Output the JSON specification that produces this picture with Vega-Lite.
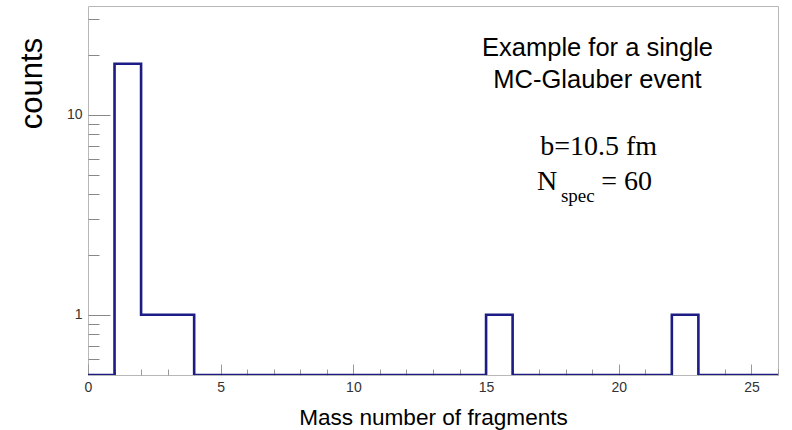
{
  "$schema": "https://vega.github.io/schema/vega-lite/v6.json",
  "width": 690,
  "height": 369,
  "autosize": "none",
  "padding": {"left": 88, "top": 6, "right": 14, "bottom": 55},
  "background": "white",
  "config": {
    "view": {"stroke": "#b8b8b8", "strokeWidth": 1},
    "font": "Liberation Sans",
    "axis": {"labelOverlap": false, "labelFlush": false, "labelBound": false}
  },
  "layer": [
    {
      "data": {
        "values": [
          {"edge": 0, "counts": 0}, {"edge": 1, "counts": 18}, {"edge": 2, "counts": 1},
          {"edge": 3, "counts": 1}, {"edge": 4, "counts": 0}, {"edge": 5, "counts": 0},
          {"edge": 6, "counts": 0}, {"edge": 7, "counts": 0}, {"edge": 8, "counts": 0},
          {"edge": 9, "counts": 0}, {"edge": 10, "counts": 0}, {"edge": 11, "counts": 0},
          {"edge": 12, "counts": 0}, {"edge": 13, "counts": 0}, {"edge": 14, "counts": 0},
          {"edge": 15, "counts": 1}, {"edge": 16, "counts": 0}, {"edge": 17, "counts": 0},
          {"edge": 18, "counts": 0}, {"edge": 19, "counts": 0}, {"edge": 20, "counts": 0},
          {"edge": 21, "counts": 0}, {"edge": 22, "counts": 1}, {"edge": 23, "counts": 0},
          {"edge": 24, "counts": 0}, {"edge": 25, "counts": 0}, {"edge": 26, "counts": 0}
        ]
      },
      "mark": {"type": "line", "interpolate": "step-after", "color": "#1c1c84", "strokeWidth": 2.6, "invalid": "show", "clip": true},
      "encoding": {
        "x": {
          "field": "edge", "type": "quantitative",
          "scale": {"domain": [0, 26], "nice": false, "zero": false},
          "axis": {
            "title": "Mass number of fragments",
            "titleFont": "Liberation Sans", "titleFontSize": 22.6, "titleFontWeight": "normal", "titleColor": "#000",
            "titlePadding": 7,
            "values": [0,1,2,3,4,5,6,7,8,9,10,11,12,13,14,15,16,17,18,19,20,21,22,23,24,25,26],
            "tickCount": 100,
            "labelExpr": "datum.value % 5 == 0 ? '' + datum.value : ''",
            "labelFont": "Liberation Sans", "labelFontSize": 14, "labelColor": "#333",
            "labelFlush": false, "labelOverlap": false,
            "labelPadding": 16,
            "domain": false, "grid": false,
            "tickColor": "#999", "tickWidth": 1,
            "tickSize": {"condition": {"test": "datum.value % 5 == 0", "value": -11}, "value": -6}
          }
        },
        "y": {
          "field": "counts", "type": "quantitative",
          "scale": {"type": "log", "domain": [0.5, 35], "nice": false, "clamp": true},
          "axis": {
            "title": "counts",
            "titleFont": "Liberation Sans", "titleFontSize": 31, "titleFontWeight": "normal", "titleColor": "#000",
            "titleAngle": -90, "titleX": -56, "titleY": 77, "titleAlign": "center", "titleBaseline": "middle",
            "values": [0.6, 0.7, 0.8, 0.9, 1, 2, 3, 4, 5, 6, 7, 8, 9, 10, 20, 30],
            "tickCount": 100,
            "labelExpr": "datum.value == 1 ? '1' : (datum.value == 10 ? '10' : '')",
            "labelFont": "Liberation Sans", "labelFontSize": 14, "labelColor": "#333",
            "labelOverlap": false, "labelFlush": false,
            "labelPadding": 28,
            "domain": false, "grid": false,
            "tickColor": "#888", "tickWidth": 1,
            "tickSize": {"condition": {"test": "datum.value == 1 || datum.value == 10", "value": -22}, "value": -11}
          }
        }
      }
    },
    {
      "data": {
        "values": [
          {"note": "Example for a single", "nx": 19.2, "ny": 19.7},
          {"note": "MC-Glauber event", "nx": 19.2, "ny": 13.6}
        ]
      },
      "mark": {"type": "text", "font": "Liberation Sans", "fontSize": 25.5, "align": "center", "baseline": "alphabetic", "color": "#000"},
      "encoding": {
        "x": {"field": "nx", "type": "quantitative"},
        "y": {"field": "ny", "type": "quantitative"},
        "text": {"field": "note"}
      }
    },
    {
      "data": {
        "values": [
          {"note": "b=10.5 fm", "nx": 19.24, "ny": 6.3}
        ]
      },
      "mark": {"type": "text", "font": "Liberation Serif", "fontSize": 28, "align": "center", "baseline": "alphabetic", "color": "#000"},
      "encoding": {
        "x": {"field": "nx", "type": "quantitative"},
        "y": {"field": "ny", "type": "quantitative"},
        "text": {"field": "note"}
      }
    },
    {
      "data": {
        "values": [
          {"note": "N", "nx": 16.92, "ny": 4.21}
        ]
      },
      "mark": {"type": "text", "font": "Liberation Serif", "fontSize": 28, "align": "left", "baseline": "alphabetic", "color": "#000"},
      "encoding": {
        "x": {"field": "nx", "type": "quantitative"},
        "y": {"field": "ny", "type": "quantitative"},
        "text": {"field": "note"}
      }
    },
    {
      "data": {
        "values": [
          {"note": "spec", "nx": 17.82, "ny": 3.66}
        ]
      },
      "mark": {"type": "text", "font": "Liberation Serif", "fontSize": 19, "align": "left", "baseline": "alphabetic", "color": "#000"},
      "encoding": {
        "x": {"field": "nx", "type": "quantitative"},
        "y": {"field": "ny", "type": "quantitative"},
        "text": {"field": "note"}
      }
    },
    {
      "data": {
        "values": [
          {"note": "= 60", "nx": 21.25, "ny": 4.21}
        ]
      },
      "mark": {"type": "text", "font": "Liberation Serif", "fontSize": 28, "align": "right", "baseline": "alphabetic", "color": "#000"},
      "encoding": {
        "x": {"field": "nx", "type": "quantitative"},
        "y": {"field": "ny", "type": "quantitative"},
        "text": {"field": "note"}
      }
    }
  ]
}
